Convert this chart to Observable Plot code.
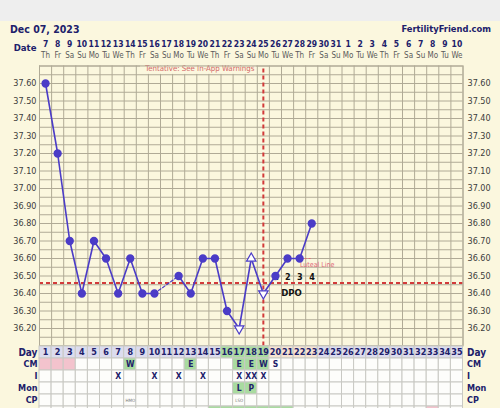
<!DOCTYPE html>
<html><head><meta charset="utf-8">
<script src="https://cdn.jsdelivr.net/npm/d3@7"></script>
<script src="https://cdn.jsdelivr.net/npm/@observablehq/plot@0.6"></script>
<style>
body{margin:0;background:#fff;}
#wrap{position:relative;width:500px;height:408px;overflow:hidden;background:#fbf7de;font-family:'DejaVu Sans Condensed','DejaVu Sans',sans-serif;}
#band{position:absolute;left:0;top:0;width:500px;height:21px;background:#eeeeee;z-index:5;}
#wrap svg{position:absolute;left:0;top:0;}
.ttl{position:absolute;font-weight:bold;color:#20206a;white-space:nowrap;z-index:6;}
</style></head><body>
<div id="wrap"><div id="band"></div>
<div class="ttl" id="t1" style="left:10px;top:22px;font-size:10.5px;line-height:14px;"></div>
<div class="ttl" id="t2" style="right:9px;top:22px;font-size:9.3px;line-height:14px;"></div>
</div>
<script>
// ---------- data ----------
const chartDate = "Dec 07, 2023";
const siteName = "FertilityFriend.com";
const cycleDays = [1,2,3,4,5,6,7,8,9,10,11,12,13,14,15,16,17,18,19,20,21,22,23,24,25,26,27,28,29,30,31,32,33,34,35];
const dateLabels = ["7","8","9","10","11","12","13","14","15","16","17","18","19","20","21","22","23","24","25","26","27","28","29","30","31","1","2","3","4","5","6","7","8","9","10"];
const weekdayLabels = ["Th","Fr","Sa","Su","Mo","Tu","We","Th","Fr","Sa","Su","Mo","Tu","We","Th","Fr","Sa","Su","Mo","Tu","We","Th","Fr","Sa","Su","Mo","Tu","We","Th","Fr","Sa","Su","Mo","Tu","We"];
const tempTicks = [36.20,36.30,36.40,36.50,36.60,36.70,36.80,36.90,37.00,37.10,37.20,37.30,37.40,37.50,37.60];

const tempDays = [1,2,3,4,5,6,7,8,9,10,12,13,14,15,16,17,18,19,20,21,22,23];
const temps    = [37.60,37.20,36.70,36.40,36.70,36.60,36.40,36.60,36.40,36.40,36.50,36.40,36.60,36.60,36.30,36.20,36.60,36.40,36.50,36.60,36.60,36.80];
const markers  = ["c","c","c","c","c","c","c","c","c","c","c","c","c","c","c","down","up","down","c","c","c","c"];

const coverline = 36.46;
const ovulationDay = 19;
const dpoDays = [20,21,22,23];
const dpoLabels = ["1","2","3","4"];
const fertileDays = [16,17,18,19];

const tableRows = ["Day","CM","I","Mon","CP"," "];
const periodDays = [1,2,3];
const cmDays = [8,13,17,18,19,20];
const cmCodes = ["W","E","E","E","W","S"];
const iDays = [7,10,12,14,17,18,19];
const iCodes = ["X","X","X","X","X","XX","X"];
const monDays = [17,18];
const monCodes = ["L","P"];
const cpDays = [8,17];
const cpCodes = ["HMO","LSO"];
const lastRowGreen = [15,16,17,18,19,20,21];
const lastRowPink = [33];

// ---------- styling ----------
const navy = "#20206a", blue = "#4b3cc7", red = "#d23a3a", cream = "#fbf7de";
const gridC = "#b0aa96";
const W = 500, H = 408;
const xOpt = {domain:[0.5,35.5], axis:null};
const mL = 39, mR = 37.5;
const font = "'DejaVu Sans Condensed','DejaVu Sans',sans-serif";
const st = {background:"none", fontFamily:font, overflow:"visible"};

document.getElementById("t1").textContent = chartDate;
document.getElementById("t2").textContent = siteName;

// ---------- header (dates) ----------
const header = Plot.plot({
  width:W, height:H, marginLeft:mL, marginRight:mR, style:st,
  x:xOpt,
  y:{type:"band", domain:["date","dow"], range:[37.5,60], padding:0, axis:null},
  marks:[
    Plot.text(cycleDays, {x:d=>d, y:()=> "date", text:(d,i)=>dateLabels[i], fill:navy, fontWeight:"bold", fontSize:8.5}),
    Plot.text(cycleDays, {x:d=>d, y:()=> "dow", text:(d,i)=>weekdayLabels[i], fill:"#5a5a5a", fontSize:8}),
    Plot.text(["Date"], {x:0.5, y:()=>"date", dx:-3, dy:3.5, textAnchor:"end", fill:navy, fontWeight:"bold", fontSize:9.5})
  ]
});

// ---------- main chart ----------
const pts = tempDays.map((d,i)=>({day:d, temp:temps[i], m:markers[i]}));
const solid = [], dashed = [];
let seg = 0;
pts.forEach((p,i)=>{
  if (i>0 && p.day - pts[i-1].day > 1) { seg++; dashed.push({...pts[i-1], g:seg}, {...p, g:seg}); }
  solid.push({...p, g:seg});
});
const gridTemps = d3.range(0,33).map(i=>36.10 + i*0.05);
const gridDays = d3.range(0,36).map(i=>0.5 + i);

const main = Plot.plot({
  width:W, height:H, marginLeft:mL, marginRight:mR, marginTop:65.5, marginBottom:62.5, style:st,
  x:xOpt,
  y:{domain:[36.10,37.70], axis:null},
  marks:[
    Plot.ruleY(gridTemps, {stroke:gridC, strokeWidth:1}),
    Plot.ruleX(gridDays, {stroke:gridC, strokeWidth:1}),
    Plot.rect([0], {x1:8.85, x2:18.45, y1:37.652, y2:37.70, fill:cream}),
    Plot.text(["Tentative: See In-App Warnings"], {x:13.75, y:37.686, fill:"#d46868", fontSize:7.8}),
    Plot.ruleY([coverline], {stroke:red, strokeWidth:2, strokeDasharray:"4,3"}),
    Plot.ruleX([ovulationDay], {y1:36.10, y2:37.70, stroke:red, strokeWidth:2, strokeDasharray:"4,3"}),
    Plot.ruleY([36.60], {x1:22.45, x2:23.1, stroke:"#e06a78", strokeWidth:1, strokeDasharray:"2,2"}),
    Plot.text(["Luteal Line"], {x:23.45, y:36.565, fill:"#e06a78", fontSize:7, textDecoration:"underline"}),
    Plot.text(dpoDays, {x:d=>d + 0.02, y:36.495, text:(d,i)=>dpoLabels[i], fill:"#111", fontWeight:"bold", fontSize:9}),
    Plot.text(["DPO"], {x:21.33, y:36.405, fill:"#111", fontWeight:"bold", fontSize:9.5}),
    Plot.line(solid, {x:"day", y:"temp", z:"g", stroke:blue, strokeWidth:1.6}),
    Plot.line(dashed, {x:"day", y:"temp", z:"g", stroke:blue, strokeWidth:1.2, strokeDasharray:"3,2"}),
    Plot.dot(pts.filter(p=>p.m==="c"), {x:"day", y:"temp", r:3.4, fill:blue, stroke:blue}),
    Plot.dot(pts.filter(p=>p.m!=="c"), {x:"day", y:"temp", symbol:"triangle", r:3.5, fill:"white", stroke:blue, strokeWidth:1.2, rotate:p=>p.m==="down"?180:0}),
    Plot.frame({stroke:gridC}),
    Plot.axisY(tempTicks, {anchor:"left", tickSize:0, tickPadding:3, tickFormat:d=>d.toFixed(2), fontSize:9, fill:"#3c3c3c", label:null}),
    Plot.axisY(tempTicks, {anchor:"right", tickSize:0, tickPadding:4.5, tickFormat:d=>d.toFixed(2), fontSize:9, fill:"#3c3c3c", label:null})
  ]
});

// ---------- table ----------
const green = "#a9dba0", lav = "#dcdcee", peach = "#f6e3d2", pink = "#f3c3cd", white = "#fdfdfb";
function cellFill(r, d) {
  if (r === "Day") return fertileDays.includes(d) ? green : dpoDays.includes(d) ? peach : lav;
  if (r === "CM") {
    if (periodDays.includes(d)) return pink;
    const k = cmDays.indexOf(d);
    if (k >= 0 && (cmCodes[k] === "E" || cmCodes[k] === "W")) return green;
    return white;
  }
  if (r === "Mon") return monDays.includes(d) ? green : white;
  if (r === " ") return lastRowGreen.includes(d) ? green : lastRowPink.includes(d) ? pink : white;
  return white;
}
const cells = [];
for (const r of tableRows) for (const d of cycleDays) cells.push({row:r, day:d, fill:cellFill(r,d)});
const codeCells = [
  ...cmDays.map((d,i)=>({row:"CM", day:d, t:cmCodes[i]})),
  ...iDays.map((d,i)=>({row:"I", day:d, t:iCodes[i]})),
  ...monDays.map((d,i)=>({row:"Mon", day:d, t:monCodes[i]}))
];
const table = Plot.plot({
  width:W, height:H, marginLeft:mL, marginRight:mR, style:st,
  x:xOpt,
  y:{type:"band", domain:tableRows, range:[345.5,417.5], padding:0, axis:null},
  marks:[
    Plot.barX(cells, {x1:d=>d.day-0.5, x2:d=>d.day+0.5, y:"row", fill:"fill", stroke:"#c9c9c4", strokeWidth:1}),
    Plot.text(cycleDays, {x:d=>d, y:()=> "Day", text:d=>String(d), fill:navy, fontWeight:"bold", fontSize:9}),
    Plot.text(codeCells, {x:"day", y:"row", text:"t", fill:navy, fontWeight:"bold", fontSize:8.5}),
    Plot.text(cpDays, {x:d=>d, y:()=> "CP", text:(d,i)=>cpCodes[i], fill:"#777", fontSize:4.5}),
    Plot.text(tableRows.filter(r=>r.trim()), {x:0.5, y:d=>d, dx:-2, textAnchor:"end", fill:navy, fontWeight:"bold", fontSize:d=>d==="Day"?10:9, letterSpacing:"-0.5px"}),
    Plot.text(tableRows.filter(r=>r.trim()), {x:35.5, y:d=>d, dx:4, textAnchor:"start", fill:navy, fontWeight:"bold", fontSize:d=>d==="Day"?10:9, letterSpacing:"-0.5px"})
  ]
});

const wrap = document.getElementById("wrap");
wrap.appendChild(main);
wrap.appendChild(table);
wrap.appendChild(header);
</script>
</body></html>
